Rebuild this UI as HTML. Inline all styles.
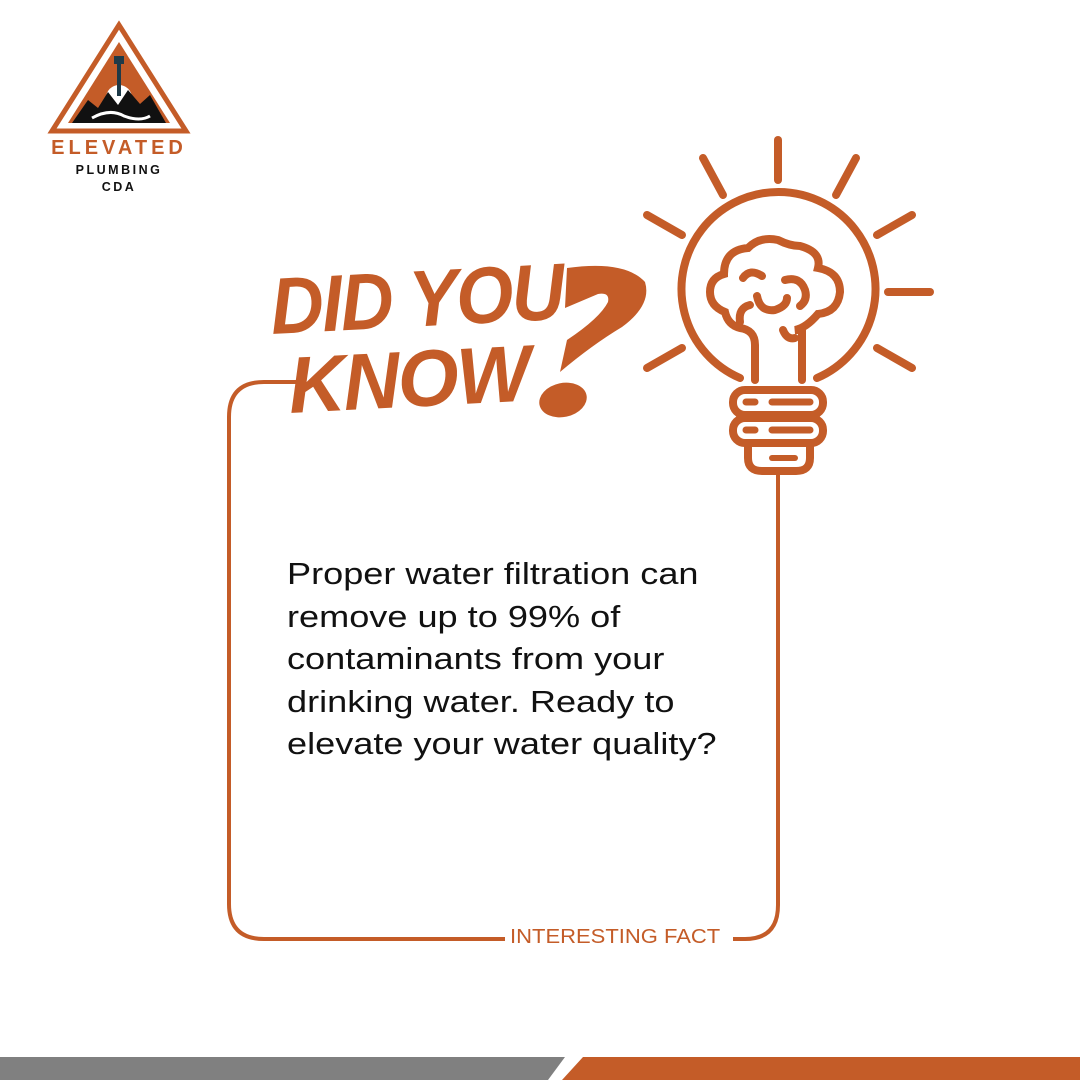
<!DOCTYPE html>
<html><head><meta charset="utf-8"><style>
html,body{margin:0;padding:0;background:#fff;}
body{width:1080px;height:1080px;position:relative;overflow:hidden;font-family:"Liberation Sans",sans-serif;}
.abs{position:absolute;}
</style></head><body>
<svg class="abs" style="left:0;top:0" width="1080" height="1080">
  <g>
    <polygon points="119,25 52,131 186,131" fill="none" stroke="#c45c28" stroke-width="5"/>
    <polygon points="119,42 68,123 170,123" fill="#c45c28"/>
    <circle cx="119" cy="98" r="13" fill="#fff"/>
    <polygon points="72,123 88,100 98,108 108,92 118,105 128,90 140,104 150,95 166,123" fill="#111"/>
    <path d="M92,118 Q110,108 124,116 Q140,122 150,116" stroke="#fff" stroke-width="3" fill="none"/>
    <rect x="117" y="58" width="4" height="38" fill="#1e3a48"/>
    <rect x="114" y="56" width="10" height="8" fill="#1e3a48"/>
    <text x="119" y="154" text-anchor="middle" font-family="Liberation Sans" font-weight="bold" font-size="20" letter-spacing="4" fill="#c45c28">ELEVATED</text>
    <text x="119" y="174" text-anchor="middle" font-family="Liberation Sans" font-weight="bold" font-size="12.5" letter-spacing="2.5" fill="#111">PLUMBING</text>
    <text x="119" y="191" text-anchor="middle" font-family="Liberation Sans" font-weight="bold" font-size="12.5" letter-spacing="2.5" fill="#111">CDA</text>
  </g>
  <g fill="none" stroke="#c45c28" stroke-width="4">
    <path d="M300,382 L264,382 Q229,382 229,417 L229,904 Q229,939 264,939 L505,939"/>
    <path d="M733,939 L745,939 Q778,939 778,905 L778,470"/>
  </g>
  <g stroke="#c45c28" stroke-width="8" stroke-linecap="round" fill="none">
    <line x1="778" y1="140" x2="778" y2="180"/>
    <line x1="703" y1="158" x2="723" y2="195"/>
    <line x1="856" y1="158" x2="836" y2="195"/>
    <line x1="647" y1="215" x2="682" y2="235"/>
    <line x1="912" y1="215" x2="877" y2="235"/>
    <line x1="888" y1="292" x2="930" y2="292"/>
    <line x1="647" y1="368" x2="682" y2="348"/>
    <line x1="912" y1="368" x2="877" y2="348"/>
    <path d="M740,378 A97,97 0 1 1 817,378"/>
    <path d="M755,380 L755,345 Q755,330 740,328 Q728,325 725,312 Q710,306 710,292 Q710,278 724,274 Q724,250 748,248 Q760,236 778,240 Q790,246 800,246 Q822,252 818,268 Q840,272 840,292 Q838,312 818,314 Q806,328 795,330 L802,330 L802,380"/>
    <path d="M740,322 Q738,308 750,305"/>
    <path d="M743,278 Q750,268 762,276"/>
    <path d="M757,296 Q760,312 775,310 Q787,306 787,298"/>
    <path d="M785,280 Q800,276 805,290 Q808,300 800,306"/>
    <path d="M783,330 Q787,340 795,338"/>
    <rect x="733" y="390" width="90" height="25" rx="12"/>
    <rect x="733" y="418" width="90" height="25" rx="12"/>
    <path d="M748,446 L748,458 Q748,471 762,471 L796,471 Q810,471 810,458 L810,446"/>
    <line x1="746" y1="402" x2="755" y2="402" stroke-width="7"/>
    <line x1="772" y1="402" x2="810" y2="402" stroke-width="7"/>
    <line x1="746" y1="430" x2="755" y2="430" stroke-width="7"/>
    <line x1="772" y1="430" x2="810" y2="430" stroke-width="7"/>
    <line x1="772" y1="458" x2="795" y2="458" stroke-width="6"/>
  </g>
  <g fill="#c45c28">
    <path d="M567,268 Q625,260 645,282 Q652,305 622,327 Q592,345 560,372 L567,340 Q600,318 608,302 Q610,292 598,294 L565,308 Z"/>
    <ellipse cx="563" cy="400" rx="24" ry="17" transform="rotate(-12 563 400)"/>
  </g>
  <g fill="#c45c28" font-family="Liberation Sans" font-weight="bold" font-style="italic">
    <text x="0" y="0" font-size="80" transform="translate(272,334) rotate(-3) scale(0.92,1)" letter-spacing="-2">DID YOU</text>
    <text x="0" y="0" font-size="80" transform="translate(290,413) rotate(-3) scale(0.98,1)" letter-spacing="-2">KNOW</text>
  </g>
  <polygon points="0,1057 565,1057 548,1080 0,1080" fill="#808080"/>
  <polygon points="583,1057 1080,1057 1080,1080 562,1080" fill="#c45c28"/>
</svg>
<div class="abs" style="left:287px;top:553px;font-size:31px;line-height:42.5px;color:#111;white-space:nowrap;transform:scaleX(1.165);transform-origin:0 0;">Proper water filtration can<br>remove up to 99% of<br>contaminants from your<br>drinking water. Ready to<br>elevate your water quality?</div>
<div class="abs" style="left:510px;top:926px;font-size:20px;color:#c45c28;white-space:nowrap;transform:scaleX(1.1);transform-origin:0 0;">INTERESTING FACT</div>
</body></html>
